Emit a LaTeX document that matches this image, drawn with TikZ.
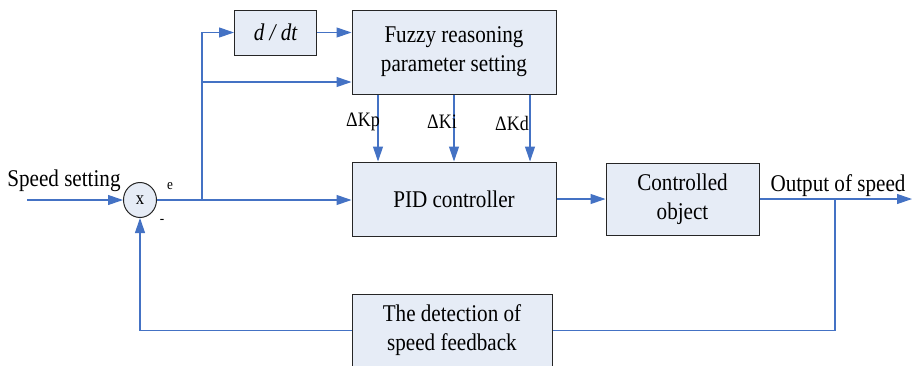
\documentclass[tikz,border=0pt]{standalone}
\usepackage{fontspec}
\setmainfont{Liberation Serif}[FakeStretch=0.88]
\usetikzlibrary{arrows.meta,shapes.geometric}
\definecolor{linec}{RGB}{68,114,196}
\definecolor{boxfill}{RGB}{230,236,246}
\begin{document}
\begin{tikzpicture}[x=1pt,y=-1pt,
  blk/.style={draw=black!85,fill=boxfill,line width=1pt,inner sep=0pt,align=center,font=\fontsize{24}{29}\selectfont},
  conn/.style={draw=linec,line width=1.1pt},
  arr/.style={conn,-{Triangle[length=15pt,width=10pt]}},
  lbl/.style={inner sep=0pt,font=\fontsize{24}{29}\selectfont},
  slbl/.style={inner sep=0pt,font=\fontsize{20.5}{24}\selectfont}]
\useasboundingbox (0,0) rectangle (915,365);
% blocks
\node[blk,minimum width=82pt,minimum height=45pt] (ddt) at (275.5,32.5) {\itshape d / dt};
\node[blk,minimum width=204pt,minimum height=84pt] (fuzzy) at (454,52) {Fuzzy reasoning\\parameter setting};
\node[blk,minimum width=204pt,minimum height=74pt] (pid) at (454,199) {PID controller};
\node[blk,minimum width=153pt,minimum height=72pt] (ctrl) at (682.5,199) {Controlled\\object};
\node[blk,minimum width=200pt,minimum height=73pt] (fb) at (452,330.5) {The detection of\\speed feedback};
\node[draw=black!85,fill=boxfill,line width=1pt,ellipse,minimum width=33pt,minimum height=35pt,inner sep=0pt,font=\fontsize{19}{22}\selectfont] (sum) at (140,200) {x};
% coordinates
\coordinate (in) at (27,200);
\coordinate (br) at (202,200);
\coordinate (out) at (912,199);
\coordinate (tap) at (835,199);
% connectors
\draw[arr] (in) -- (sum.west);
\draw[arr] (sum.east) -- (sum.east -| pid.west);
\draw[arr] (br) |- (ddt.west);
\draw[arr] (br) |- ([yshift=-30pt]fuzzy.west);
\draw[arr] (ddt.east) -- (ddt.east -| fuzzy.west);
\draw[arr] ([xshift=-76pt]fuzzy.south) -- ([xshift=-76pt]pid.north);
\draw[arr] (fuzzy.south) -- (pid.north);
\draw[arr] ([xshift=76pt]fuzzy.south) -- ([xshift=76pt]pid.north);
\draw[arr] (pid.east) -- (ctrl.west);
\draw[arr] (ctrl.east) -- (out);
\draw[conn] (tap) |- (fb.east);
\draw[arr] (fb.west) -| (sum.south);
% labels
\node[lbl] (lset) at (64,181) {Speed setting};
\node[lbl] (lout) at (838,186) {Output of speed};
\node[inner sep=0pt,font=\fontsize{15}{17}\selectfont] (le) at (170,186) {e};
\node[inner sep=0pt,font=\fontsize{15}{17}\selectfont] (lm) at (162,221) {-};
\node[slbl] (lkp) at (363,122) {ΔKp};
\node[slbl] (lki) at (442,122) {ΔKi};
\node[slbl] (lkd) at (512,123) {ΔKd};
\end{tikzpicture}
\end{document}
